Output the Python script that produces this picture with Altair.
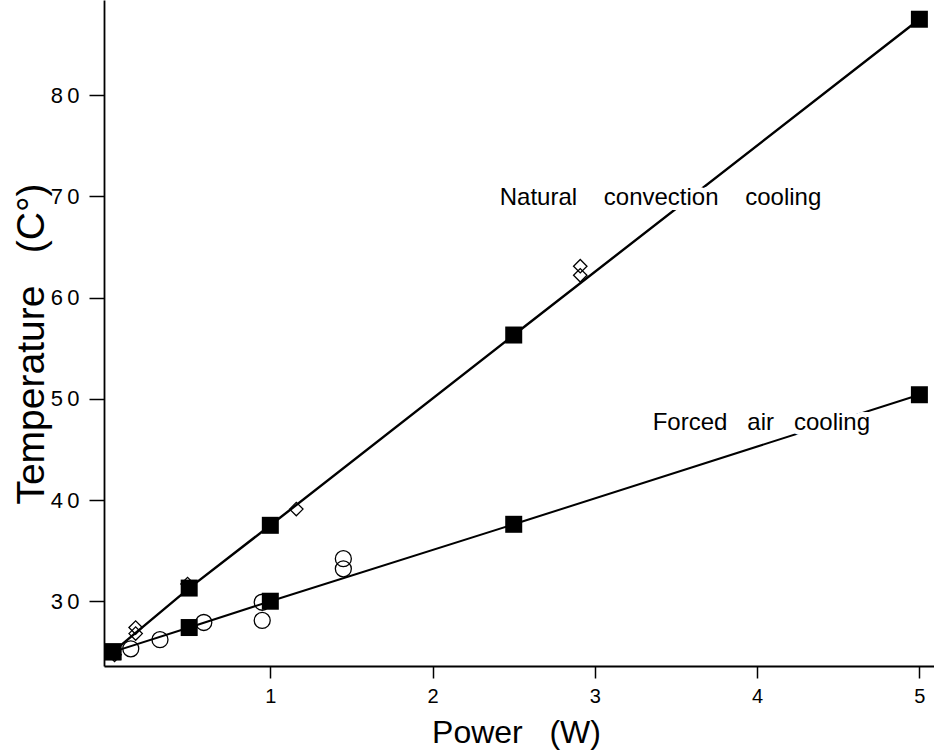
import altair as alt
import pandas as pd

# ---- data ----
power_sq = [0.03, 0.5, 1.0, 2.5, 5.0]
natural_sq = [25.0, 31.3, 37.5, 56.3, 87.5]
forced_sq = [25.0, 27.4, 30.0, 37.6, 50.4]

natural_exp_power = [0.04, 0.17, 0.17, 0.49, 1.16, 2.91, 2.91]
natural_exp_temp = [24.7, 27.4, 26.8, 31.7, 39.1, 63.1, 62.2]

forced_exp_power = [0.14, 0.32, 0.59, 0.95, 0.95, 1.45, 1.45]
forced_exp_temp = [25.3, 26.2, 27.9, 29.9, 28.1, 34.2, 33.2]

NB = "\u00a0"
label_text = ["Natural" + NB * 4 + "convection" + NB * 4 + "cooling",
              "Forced" + NB * 3 + "air" + NB * 3 + "cooling"]
label_x = [2.414, 3.356]
label_y = [69.14, 46.92]

x_ticks = [1, 2, 3, 4, 5]
y_ticks = [30, 40, 50, 60, 70, 80]

FONT = "Liberation Sans"
X_DOMAIN = [-0.025, 5.09]
Y_DOMAIN = [23.6, 89.4]

nat = pd.DataFrame({"power": power_sq, "temp": natural_sq})
frc = pd.DataFrame({"power": power_sq, "temp": forced_sq})
squares = pd.concat([nat, frc], ignore_index=True)
diamonds = pd.DataFrame({"power": natural_exp_power, "temp": natural_exp_temp})
circles = pd.DataFrame({"power": forced_exp_power, "temp": forced_exp_temp})
labels = pd.DataFrame({"power": label_x, "temp": label_y, "txt": label_text})

x_enc = alt.X(
    "power:Q",
    scale=alt.Scale(domain=X_DOMAIN, nice=False, zero=False),
    axis=alt.Axis(
        values=x_ticks, format="d", title="Power" + NB * 3 + "(W)",
        tickSize=12, tickWidth=1.5, domainWidth=1.8,
        labelFontSize=20, labelPadding=8,
        titleFontSize=32, titleX=412, titleY=76,
        titleBaseline="alphabetic", titleAlign="center",
    ),
)
y_enc = alt.Y(
    "temp:Q",
    scale=alt.Scale(domain=Y_DOMAIN, nice=False, zero=False),
    axis=alt.Axis(
        values=y_ticks, title="Temperature" + NB * 3 + "(C\u00b0)",
        tickSize=15, tickWidth=1.5, domainWidth=1.8,
        labelFontSize=22, labelPadding=10,
        labelExpr="substring(datum.label,0,1) + '\u2009' + substring(datum.label,1)",
        titleFontSize=39, titleAngle=270, titleX=-61, titleY=343.5,
        titleBaseline="alphabetic", titleAlign="center",
    ),
)

line_nat = alt.Chart(nat).mark_line(color="black", strokeWidth=2.4).encode(x=x_enc, y=y_enc)
line_frc = alt.Chart(frc).mark_line(color="black", strokeWidth=2.0).encode(x=x_enc, y=y_enc)

halo = alt.Chart(labels).mark_text(
    align="left", baseline="alphabetic", font=FONT, fontSize=24,
    fill="white", stroke="white", strokeWidth=10, strokeJoin="round",
).encode(x=x_enc, y=y_enc, text="txt:N")
text = alt.Chart(labels).mark_text(
    align="left", baseline="alphabetic", font=FONT, fontSize=24, color="black",
).encode(x=x_enc, y=y_enc, text="txt:N")

dia = alt.Chart(diamonds).mark_point(
    shape="diamond", filled=False, size=180, color="black", strokeWidth=1.3, opacity=1
).encode(x=x_enc, y=y_enc)
cir = alt.Chart(circles).mark_point(
    shape="circle", filled=False, size=256, color="black", strokeWidth=1.3, opacity=1
).encode(x=x_enc, y=y_enc)
sqr = alt.Chart(squares).mark_point(
    shape="square", filled=True, size=289, color="black", opacity=1
).encode(x=x_enc, y=y_enc)

chart = alt.layer(line_nat, line_frc, halo, text, dia, cir, sqr).properties(
    width=830, height=666,
    autosize=alt.AutoSizeParams(type="none"),
    padding={"left": 104, "top": 0, "right": 0, "bottom": 84},
    background="white",
).configure_view(stroke=None).configure_axis(
    grid=False, domainColor="black", tickColor="black",
    labelColor="black", titleColor="black",
    labelFont=FONT, titleFont=FONT, titleFontWeight="normal",
)

chart.save("out.html", embed_options={"renderer": "svg", "actions": False})
